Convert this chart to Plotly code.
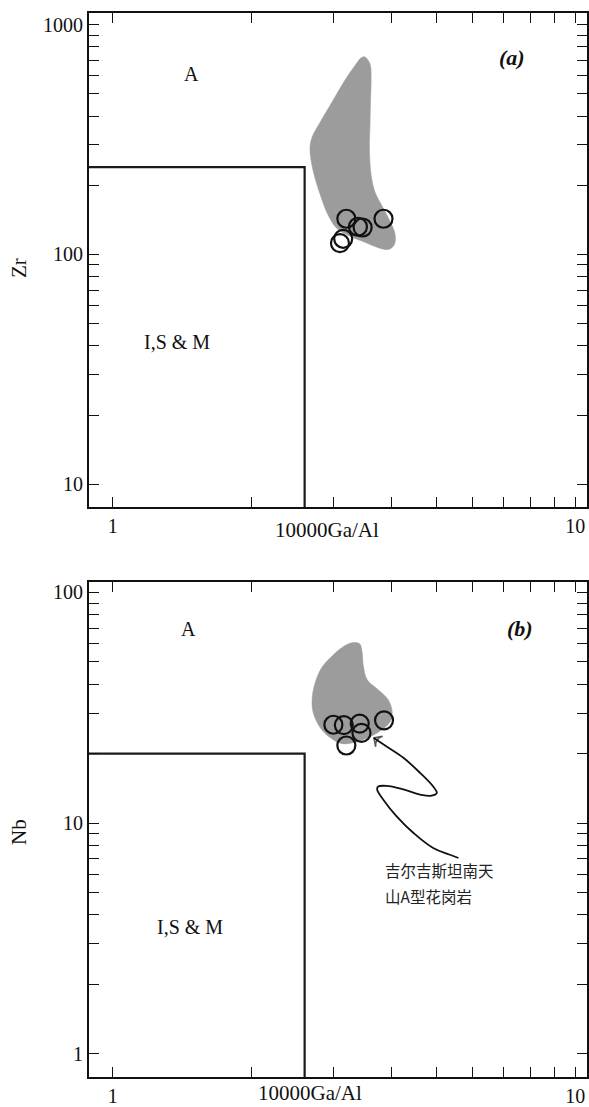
import math
import plotly.graph_objects as go

# ---- Grey field: A-type granites of the Kyrgyz South Tianshan ----
field_a_ga_al = [3.51, 3.60, 3.62, 3.61, 3.60, 3.59, 3.62, 3.69, 3.82, 3.98, 4.08, 4.06, 3.94,
                 3.75, 3.51, 3.26, 3.05, 2.92, 2.81, 2.71, 2.67, 2.70, 2.81, 2.98, 3.18, 3.36, 3.44]
field_a_zr = [724, 675, 575, 470, 366, 285, 222, 187, 163, 139, 122, 110, 105,
              107, 113, 120, 130, 149, 182, 233, 291, 325, 377, 461, 575, 675, 716]

field_b_ga_al = [3.29, 3.42, 3.46, 3.48, 3.55, 3.75, 3.94, 4.02, 3.98, 3.82, 3.60, 3.36,
                 3.13, 2.95, 2.81, 2.71, 2.70, 2.74, 2.83, 3.00, 3.15]
field_b_nb = [60.5, 59.9, 55.3, 48.6, 41.8, 37.9, 34.3, 30.4, 27.5, 25.4, 23.7, 22.5,
              22.1, 23.5, 25.9, 30.4, 35.0, 40.6, 47.2, 53.7, 58.2]

# ---- Samples ----
sample_ga_al_a = [3.20, 3.39, 3.47, 3.85, 3.15, 3.10]
sample_zr = [143, 132, 131, 143, 117, 112]
sample_ga_al_b = [3.00, 3.16, 3.42, 3.45, 3.20, 3.86]
sample_nb = [26.7, 26.6, 27.0, 24.6, 21.7, 27.9]

# ---- Discrimination boundaries (Whalen et al.) ----
ga_al_limit = 2.6
zr_limit = 240
nb_limit = 20

# ---- Leader line from the label to the grey field (panel b), label end first ----
leader_ga_al = [5.59, 5.36, 4.93, 4.47, 4.11, 3.85, 3.73, 3.75, 3.91, 4.25, 4.62, 4.89,
                5.02, 4.93, 4.62, 4.25, 3.91, 3.67]
leader_nb = [7.06, 7.29, 7.80, 9.06, 10.7, 12.6, 14.0, 14.4, 14.5, 14.0, 13.3, 13.15,
             13.5, 14.4, 16.5, 19.2, 21.5, 23.4]

x_ticks = [1, 2, 3, 4, 5, 6, 7, 8, 9, 10]
x_labels = ["1", "", "", "", "", "", "", "", "", "10"]
zr_ticks = [10, 20, 30, 40, 50, 60, 70, 80, 90, 100, 200, 300, 400, 500, 600, 700, 800, 900, 1000]
zr_labels = ["10"] + [""] * 8 + ["100"] + [""] * 8 + ["1000"]
nb_ticks = [1, 2, 3, 4, 5, 6, 7, 8, 9, 10, 20, 30, 40, 50, 60, 70, 80, 90, 100]
nb_labels = ["1"] + [""] * 8 + ["10"] + [""] * 8 + ["100"]

SERIF = "Liberation Serif"
CJK = "Noto Sans CJK SC"
FIELD_GREY = "#9c9c9c"
INK = "#111111"

fig = go.Figure()

for xa, ya, fx, fy, sx, sy, ylim in [
    ("x", "y", field_a_ga_al, field_a_zr, sample_ga_al_a, sample_zr, zr_limit),
    ("x2", "y2", field_b_ga_al, field_b_nb, sample_ga_al_b, sample_nb, nb_limit),
]:
    fig.add_trace(go.Scatter(
        x=fx + fx[:1], y=fy + fy[:1], xaxis=xa, yaxis=ya,
        mode="lines", line=dict(color=FIELD_GREY, width=0.5, shape="spline", smoothing=1.0),
        fill="toself", fillcolor=FIELD_GREY, hoverinfo="skip", showlegend=False,
    ))
    fig.add_trace(go.Scatter(
        x=[0.5, ga_al_limit, ga_al_limit], y=[ylim, ylim, 0.1], xaxis=xa, yaxis=ya,
        mode="lines", line=dict(color="#1a1a1a", width=2.2), hoverinfo="skip", showlegend=False,
    ))
    fig.add_trace(go.Scatter(
        x=sx, y=sy, xaxis=xa, yaxis=ya, mode="markers",
        marker=dict(symbol="circle-open", size=18, color=INK, line=dict(width=2.2, color=INK)),
        showlegend=False,
    ))

# leader line with arrowhead at the field
fig.add_trace(go.Scatter(
    x=leader_ga_al, y=leader_nb, xaxis="x2", yaxis="y2", mode="lines",
    line=dict(color=INK, width=1.8, shape="spline", smoothing=1.1),
    hoverinfo="skip", showlegend=False,
))
fig.add_trace(go.Scatter(
    x=leader_ga_al[-2:], y=leader_nb[-2:], xaxis="x2", yaxis="y2", mode="markers",
    marker=dict(symbol="arrow-wide-open", size=[0, 9], color=INK, angleref="previous",
                line=dict(width=1.5, color=INK)),
    hoverinfo="skip", showlegend=False,
))

W, H = 589, 1107
x_dom = [89 / W, 587 / W]
axis_common = dict(
    type="log", showline=True, linewidth=2.2, linecolor=INK, mirror="ticks",
    ticks="inside", ticklen=10, tickwidth=1.3, tickcolor=INK,
    showgrid=False, zeroline=False, tickfont=dict(family=SERIF, size=20, color=INK),
)

fig.update_layout(
    width=W, height=H, margin=dict(l=0, r=0, t=0, b=0),
    paper_bgcolor="white", plot_bgcolor="white",
    xaxis=dict(domain=x_dom, anchor="y", range=[math.log10(0.889), math.log10(10.6)],
               tickvals=x_ticks, ticktext=x_labels, **axis_common),
    yaxis=dict(domain=[1 - 507 / H, 1 - 13 / H], anchor="x",
               range=[math.log10(7.96), math.log10(1124)],
               tickvals=zr_ticks, ticktext=zr_labels, **axis_common),
    xaxis2=dict(domain=x_dom, anchor="y2", range=[math.log10(0.889), math.log10(10.6)],
                tickvals=x_ticks, ticktext=x_labels, **axis_common),
    yaxis2=dict(domain=[1 - 1077 / H, 1 - 582 / H], anchor="x2",
                range=[math.log10(0.793), math.log10(111)],
                tickvals=nb_ticks, ticktext=nb_labels, **axis_common),
)

serif20 = dict(family=SERIF, size=20, color=INK)
serif21 = dict(family=SERIF, size=21, color=INK)
label_font_bi = dict(family=SERIF, size=22, color=INK, weight="bold", style="italic")
cjk_font = dict(family=CJK, size=15.5, color="#222222")

def data_note(text, x, y, xa, ya, font, **kw):
    fig.add_annotation(text=text, x=math.log10(x), y=math.log10(y), xref=xa, yref=ya,
                       showarrow=False, font=font, **kw)

data_note("A", 1.48, 610, "x", "y", serif20)
data_note("I,S &amp; M", 1.375, 41.7, "x", "y", serif20)
data_note("(a)", 7.29, 721, "x", "y", label_font_bi)
data_note("A", 1.462, 69.4, "x2", "y2", serif20)
data_note("I,S &amp; M", 1.469, 3.53, "x2", "y2", serif20)
data_note("(b)", 7.59, 70.1, "x2", "y2", label_font_bi)
data_note("吉尔吉斯坦南天", 3.84, 6.28, "x2", "y2", cjk_font, xanchor="left")
data_note("山A型花岗岩", 3.84, 4.85, "x2", "y2", cjk_font, xanchor="left")

def paper_note(text, px, py, **kw):
    fig.add_annotation(text=text, x=px / W, y=1 - py / H, xref="paper", yref="paper",
                       xanchor="center", yanchor="middle",
                       showarrow=False, font=serif21, **kw)

paper_note("10000Ga/Al", 326.5, 530)
paper_note("10000Ga/Al", 310, 1093)
paper_note("Zr", 19, 268, textangle=-90)
paper_note("Nb", 19, 832, textangle=-90)

fig.write_html("out.html")
